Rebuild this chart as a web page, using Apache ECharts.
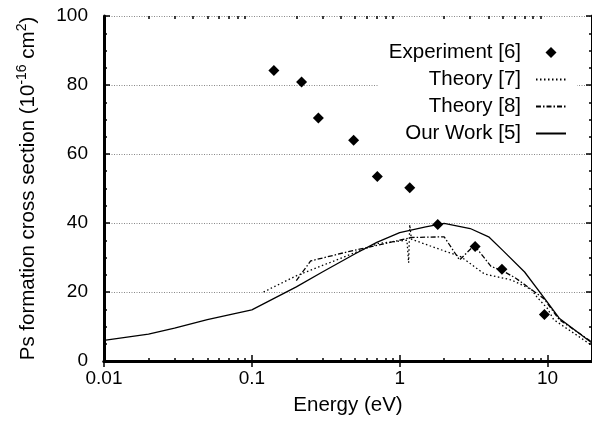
<!DOCTYPE html>
<html>
<head>
<meta charset="utf-8">
<script src="https://cdn.jsdelivr.net/npm/echarts@6/dist/echarts.min.js"></script>
<style>html,body{margin:0;padding:0;background:#fff;}#c{width:592px;height:421px;}</style>
</head>
<body>
<div id="c"></div>
<script>
// ---- data ----
var expX = [0.141, 0.217, 0.282, 0.488, 0.706, 1.17, 1.81, 3.24, 4.92, 9.53];
var expY = [84.2, 80.9, 70.4, 64.0, 53.5, 50.2, 39.6, 33.2, 26.6, 13.5];

var theory7X = [0.12, 0.2, 0.72, 0.93, 1.12, 1.15, 1.17, 1.2, 1.55, 2.6, 3.75, 5.7, 7.8, 8.5, 10, 11, 20];
var theory7Y = [20, 24.7, 34.1, 34.6, 35, 28.5, 39.5, 35.3, 33.6, 30.2, 25.2, 23.5, 20.7, 18.5, 15.2, 12, 4.5];

var theory8X = [0.2, 0.25, 0.45, 0.72, 1.2, 2.0, 2.54, 3.2, 3.75, 4.15, 5, 6.1, 9.5, 12, 20];
var theory8Y = [23.3, 29, 31.7, 33.6, 35.8, 36, 29.3, 33.5, 29.8, 27.4, 26.1, 24, 18, 12, 5.5];

var ourX = [0.01, 0.02, 0.03, 0.05, 0.07, 0.1, 0.2, 0.3, 0.5, 0.7, 1, 1.5, 2, 3, 4, 5, 7, 10, 12, 20];
var ourY = [6, 7.8, 9.5, 12, 13.4, 14.8, 21.5, 25.8, 31.1, 34.4, 37.2, 38.9, 39.9, 38.4, 36, 32, 25.8, 17, 12.4, 5.2];

var xMajor = [0.01, 0.1, 1, 10];
var xMinor = [0.02,0.03,0.04,0.05,0.06,0.07,0.08,0.09,0.2,0.3,0.4,0.5,0.6,0.7,0.8,0.9,2,3,4,5,6,7,8,9,20];
var xMin = 0.01, xMax = 20;
var yMin = 0, yMax = 100, yStep = 20;

var seriesNames = ['Experiment [6]', 'Theory [7]', 'Theory [8]', 'Our Work [5]'];

function pairs(xs, ys) { return xs.map(function (x, i) { return [x, ys[i]]; }); }

var FONT = 'Liberation Sans, Arial, Helvetica, sans-serif';
var AXW = 3;

function xAxisDef(pos, ticks, len, showLabel, showLine) {
  return {
    type: 'log', logBase: 10, min: xMin, max: xMax, position: pos,
    axisLine: { show: showLine, lineStyle: { color: '#000', width: AXW } },
    axisTick: { show: true, inside: true, length: len, customValues: ticks, lineStyle: { color: '#000', width: 1.5 } },
    axisLabel: showLabel ? { show: true, customValues: xMajor, color: '#000', fontFamily: FONT, fontSize: 19, margin: 8,
      formatter: function (v) { return String(+v.toPrecision(6)); } } : { show: false },
    splitLine: { show: false }, minorTick: { show: false }, minorSplitLine: { show: false }
  };
}

var chart = echarts.init(document.getElementById('c'), null, { renderer: 'canvas' });

var xa0 = xAxisDef('bottom', xMajor, 6, true, true);
xa0.name = 'Energy (eV)';
xa0.nameLocation = 'middle';
xa0.nameGap = 34;
xa0.nameTextStyle = { color: '#000', fontFamily: FONT, fontSize: 20.5 };

var hideSym = { opacity: 0 };

var option = {
  backgroundColor: '#fff',
  animation: false,
  grid: { left: 104, top: 16, bottom: 57, right: -3, containLabel: false },
  xAxis: [
    xa0,
    xAxisDef('top', xMajor, 6, false, true),
    xAxisDef('bottom', xMinor, 3, false, false),
    xAxisDef('top', xMinor, 3, false, false)
  ],
  yAxis: [
    {
      type: 'value', min: yMin, max: yMax, interval: yStep, position: 'left',
      name: '{a|Ps formation cross section (10}{s|-16}{a| cm}{s|2}{a|)}',
      nameLocation: 'middle', nameGap: 63, nameRotate: 90,
      nameTextStyle: {
        color: '#000', fontFamily: FONT,
        rich: {
          a: { fontFamily: FONT, fontSize: 20.5, color: '#000', lineHeight: 26 },
          s: { fontFamily: FONT, fontSize: 14, color: '#000', lineHeight: 14, verticalAlign: 'top' }
        }
      },
      axisLine: { show: true, lineStyle: { color: '#000', width: AXW } },
      axisTick: { show: true, inside: true, length: 6, lineStyle: { color: '#000', width: 1.5 } },
      minorTick: { show: true, splitNumber: 4, length: 3, lineStyle: { color: '#000', width: 1.5 } },
      axisLabel: { color: '#000', fontFamily: FONT, fontSize: 19, margin: 16 },
      splitLine: { show: true, lineStyle: { color: '#888', width: 1, type: [1, 1.5] } }
    },
    {
      type: 'value', min: yMin, max: yMax, interval: yStep, position: 'right',
      axisLine: { show: true, lineStyle: { color: '#000', width: AXW } },
      axisTick: { show: true, inside: true, length: 6, lineStyle: { color: '#000', width: 1.5 } },
      minorTick: { show: true, splitNumber: 4, length: 3, lineStyle: { color: '#000', width: 1.5 } },
      axisLabel: { show: false },
      splitLine: { show: false }
    }
  ],
  legend: {
    orient: 'vertical', align: 'right', right: 15, top: 38,
    itemWidth: 30, itemHeight: 11, itemGap: 6,
    backgroundColor: '#fff', padding: [4, 10, 4, 10],
    symbolKeepAspect: true,
    textStyle: { color: '#000', fontFamily: FONT, fontSize: 20.5, lineHeight: 20, padding: [0, 10, 0, 0] },
    data: [
      { name: seriesNames[0], icon: 'path://M0,-1L1,0L0,1L-1,0Z', itemStyle: { color: '#000', opacity: 1 } },
      { name: seriesNames[1], itemStyle: hideSym },
      { name: seriesNames[2], itemStyle: hideSym },
      { name: seriesNames[3], itemStyle: hideSym }
    ]
  },
  series: [
    {
      name: seriesNames[3], type: 'line', data: pairs(ourX, ourY), symbol: 'none', showSymbol: false,
      lineStyle: { color: '#000', width: 1.3, type: 'solid' }, itemStyle: { color: '#000' }, z: 3
    },
    {
      name: seriesNames[1], type: 'line', data: pairs(theory7X, theory7Y), symbol: 'none', showSymbol: false,
      lineStyle: { color: '#000', width: 1.3, type: [1.5, 2.5] }, itemStyle: { color: '#000' }, z: 3
    },
    {
      name: seriesNames[2], type: 'line', data: pairs(theory8X, theory8Y), symbol: 'none', showSymbol: false,
      lineStyle: { color: '#000', width: 1.3, type: [5, 2, 1.5, 2] }, itemStyle: { color: '#000' }, z: 3
    },
    {
      name: seriesNames[0], type: 'scatter', data: pairs(expX, expY), symbol: 'diamond', symbolSize: 11,
      itemStyle: { color: '#000', opacity: 1 }, z: 4
    }
  ]
};
chart.setOption(option);
</script>
</body>
</html>
